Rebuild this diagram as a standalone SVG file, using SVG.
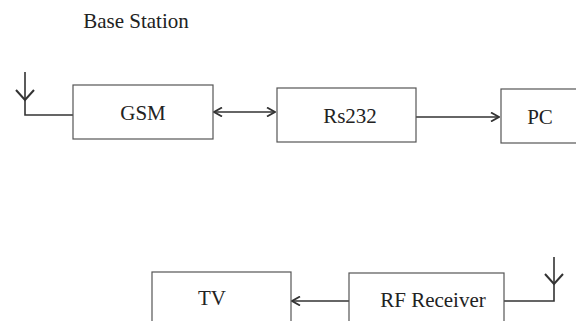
<svg xmlns="http://www.w3.org/2000/svg" width="576" height="321" viewBox="0 0 576 321">
<style>
.box{fill:#fff;stroke:#555;stroke-width:1.2}
.lbl{font-family:"Liberation Serif","Times New Roman",serif;font-size:21px;fill:#222;text-anchor:middle}
.ln{fill:none;stroke:#333;stroke-width:1.6}
</style>
<defs>
<marker id="ah" viewBox="0 0 10 10" refX="9" refY="5" markerWidth="10" markerHeight="10" markerUnits="userSpaceOnUse" orient="auto-start-reverse">
<path d="M1,0.5 L9,5 L1,9.5" fill="none" stroke="#333" stroke-width="1.8"/>
</marker>
</defs>
<rect width="576" height="321" fill="#fff"/>
<text x="136" y="28" class="lbl">Base Station</text>
<g id="connectors">
<path class="ln" d="M25,72 V115 H73"/>
<path d="M16,90 L25,100 L34,90" fill="none" stroke="#333" stroke-width="2"/>
<line class="ln" x1="214" y1="112" x2="275" y2="112" marker-start="url(#ah)" marker-end="url(#ah)"/>
<line class="ln" x1="416" y1="117" x2="499" y2="117" marker-end="url(#ah)"/>
<line class="ln" x1="349" y1="301" x2="292" y2="301" marker-end="url(#ah)"/>
<path class="ln" d="M504,301 H554 V257"/>
<path d="M545,274 L554,284 L563,274" fill="none" stroke="#333" stroke-width="2"/>
</g>
<g id="gsm">
<rect class="box" x="73" y="85" width="140" height="54"/>
<text class="lbl" x="143" y="120">GSM</text>
</g>
<g id="rs232">
<rect class="box" x="277" y="88" width="139" height="54"/>
<text class="lbl" x="350" y="123">Rs232</text>
</g>
<g id="pc">
<rect class="box" x="501" y="89" width="90" height="54"/>
<text class="lbl" x="540" y="124">PC</text>
</g>
<g id="tv">
<rect class="box" x="152" y="272" width="139" height="60"/>
<text class="lbl" x="212" y="305">TV</text>
</g>
<g id="rf">
<rect class="box" x="349" y="273" width="155" height="60"/>
<text class="lbl" x="433" y="307">RF Receiver</text>
</g>
</svg>
